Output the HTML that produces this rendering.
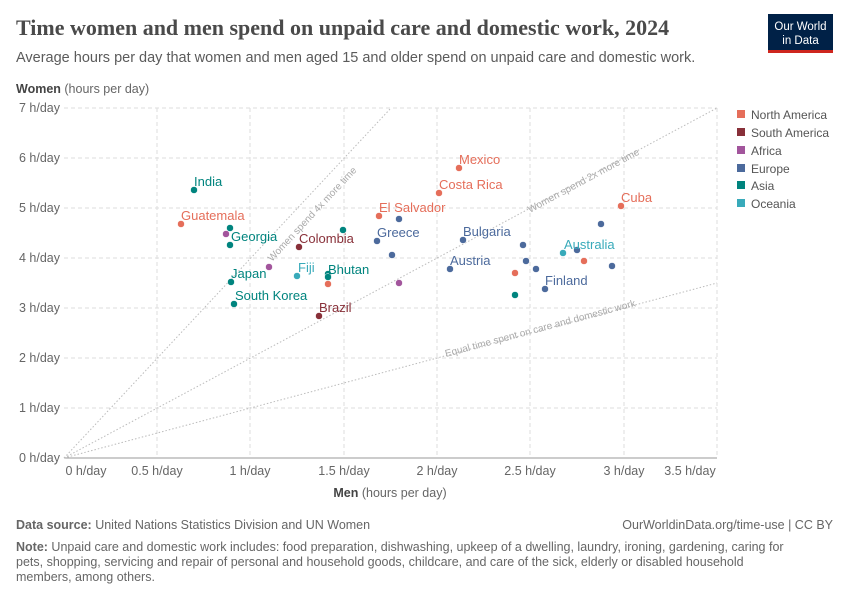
<!DOCTYPE html>
<html><head><meta charset="utf-8"><style>
html,body{margin:0;padding:0;background:#fff;width:850px;height:600px;overflow:hidden}
svg{display:block}
text{font-family:"Liberation Sans",sans-serif}
</style></head><body>
<svg width="850" height="600" viewBox="0 0 850 600" xmlns="http://www.w3.org/2000/svg">
<text x="16" y="35" font-size="22" font-weight="bold" fill="#4a4a4a" style="font-family:'Liberation Serif',serif">Time women and men spend on unpaid care and domestic work, 2024</text>
<text x="16" y="62" font-size="14.5" fill="#5b5b5b">Average hours per day that women and men aged 15 and older spend on unpaid care and domestic work.</text>
<rect x="768" y="14" width="65" height="36" fill="#002147"/>
<rect x="768" y="50" width="65" height="3" fill="#ce261e"/>
<text x="800.5" y="30" font-size="11.5" fill="#fff" text-anchor="middle">Our World</text>
<text x="800.5" y="44" font-size="11.5" fill="#fff" text-anchor="middle">in Data</text>
<text x="16" y="93" font-size="12.5" fill="#444"><tspan font-weight="bold">Women</tspan><tspan fill="#666"> (hours per day)</tspan></text>
<g stroke="#ddd" stroke-dasharray="4,3" stroke-width="1">
<line x1="64" y1="108" x2="717" y2="108"/><line x1="64" y1="158" x2="717" y2="158"/><line x1="64" y1="208" x2="717" y2="208"/><line x1="64" y1="258" x2="717" y2="258"/><line x1="64" y1="308" x2="717" y2="308"/><line x1="64" y1="358" x2="717" y2="358"/><line x1="64" y1="408" x2="717" y2="408"/>
<line x1="157" y1="108" x2="157" y2="458"/><line x1="250" y1="108" x2="250" y2="458"/><line x1="344" y1="108" x2="344" y2="458"/><line x1="437" y1="108" x2="437" y2="458"/><line x1="530" y1="108" x2="530" y2="458"/><line x1="624" y1="108" x2="624" y2="458"/><line x1="717" y1="108" x2="717" y2="458"/>
</g>
<line x1="64" y1="458" x2="717" y2="458" stroke="#999"/>
<g font-size="12.5" fill="#666" text-anchor="end">
<text x="60" y="112">7 h/day</text><text x="60" y="162">6 h/day</text><text x="60" y="212">5 h/day</text><text x="60" y="262">4 h/day</text><text x="60" y="312">3 h/day</text><text x="60" y="362">2 h/day</text><text x="60" y="412">1 h/day</text><text x="60" y="462">0 h/day</text>
</g>
<g font-size="12.5" fill="#666" text-anchor="middle">
<text x="86" y="475">0 h/day</text><text x="157" y="475">0.5 h/day</text><text x="250" y="475">1 h/day</text><text x="344" y="475">1.5 h/day</text><text x="437" y="475">2 h/day</text><text x="530" y="475">2.5 h/day</text><text x="624" y="475">3 h/day</text><text x="690" y="475">3.5 h/day</text>
</g>
<text x="390" y="497" font-size="12.5" fill="#444" text-anchor="middle"><tspan font-weight="bold">Men</tspan><tspan fill="#666"> (hours per day)</tspan></text>
<g stroke="#bbb" stroke-dasharray="1.5,2" stroke-width="1" fill="none">
<line x1="64" y1="458" x2="717" y2="283"/><line x1="64" y1="458" x2="717" y2="108"/><line x1="64" y1="458" x2="391" y2="108"/>
</g>
<g font-size="10" fill="#aaa">
<text transform="translate(446,357) rotate(-15)">Equal time spent on care and domestic work</text>
<text transform="translate(530,213) rotate(-28.2)">Women spend 2x more time</text>
<text transform="translate(272,262) rotate(-47)">Women spend 4x more time</text>
</g>
<g stroke="#fff" stroke-width="0.5">
<g fill="#e56e5a"><circle cx="181" cy="224" r="3.5"/><circle cx="379" cy="216" r="3.5"/><circle cx="328" cy="284" r="3.5"/><circle cx="459" cy="168" r="3.5"/><circle cx="439" cy="193" r="3.5"/><circle cx="515" cy="273" r="3.5"/><circle cx="584" cy="261" r="3.5"/><circle cx="621" cy="206" r="3.5"/></g>
<g fill="#883039"><circle cx="299" cy="247" r="3.5"/><circle cx="319" cy="316" r="3.5"/></g>
<g fill="#a2559c"><circle cx="226" cy="234" r="3.5"/><circle cx="269" cy="267" r="3.5"/><circle cx="399" cy="283" r="3.5"/></g>
<g fill="#4c6a9c"><circle cx="399" cy="219" r="3.5"/><circle cx="377" cy="241" r="3.5"/><circle cx="392" cy="255" r="3.5"/><circle cx="463" cy="240" r="3.5"/><circle cx="450" cy="269" r="3.5"/><circle cx="523" cy="245" r="3.5"/><circle cx="526" cy="261" r="3.5"/><circle cx="536" cy="269" r="3.5"/><circle cx="545" cy="289" r="3.5"/><circle cx="577" cy="250" r="3.5"/><circle cx="601" cy="224" r="3.5"/><circle cx="612" cy="266" r="3.5"/></g>
<g fill="#00847e"><circle cx="194" cy="190" r="3.5"/><circle cx="230" cy="228" r="3.5"/><circle cx="230" cy="245" r="3.5"/><circle cx="343" cy="230" r="3.5"/><circle cx="328" cy="274" r="3.5"/><circle cx="328" cy="277" r="3.5"/><circle cx="231" cy="282" r="3.5"/><circle cx="234" cy="304" r="3.5"/><circle cx="515" cy="295" r="3.5"/></g>
<g fill="#38aaba"><circle cx="297" cy="276" r="3.5"/><circle cx="563" cy="253" r="3.5"/></g>
</g>
<g font-size="13">
<text x="194" y="186" fill="#00847e">India</text>
<text x="181" y="220" fill="#e56e5a">Guatemala</text>
<text x="231" y="241" fill="#00847e">Georgia</text>
<text x="299" y="243" fill="#883039">Colombia</text>
<text x="379" y="212" fill="#e56e5a">El Salvador</text>
<text x="377" y="237" fill="#4c6a9c">Greece</text>
<text x="231" y="278" fill="#00847e">Japan</text>
<text x="235" y="300" fill="#00847e">South Korea</text>
<text x="298" y="272" fill="#38aaba">Fiji</text>
<text x="328" y="274" fill="#00847e">Bhutan</text>
<text x="319" y="312" fill="#883039">Brazil</text>
<text x="459" y="164" fill="#e56e5a">Mexico</text>
<text x="439" y="189" fill="#e56e5a">Costa Rica</text>
<text x="463" y="236" fill="#4c6a9c">Bulgaria</text>
<text x="450" y="265" fill="#4c6a9c">Austria</text>
<text x="545" y="285" fill="#4c6a9c">Finland</text>
<text x="564" y="249" fill="#38aaba">Australia</text>
<text x="621" y="202" fill="#e56e5a">Cuba</text>
</g>
<g font-size="12" fill="#555">
<rect x="737" y="110" width="8" height="8" fill="#e56e5a"/><text x="751" y="119">North America</text>
<rect x="737" y="128" width="8" height="8" fill="#883039"/><text x="751" y="137">South America</text>
<rect x="737" y="146" width="8" height="8" fill="#a2559c"/><text x="751" y="155">Africa</text>
<rect x="737" y="164" width="8" height="8" fill="#4c6a9c"/><text x="751" y="173">Europe</text>
<rect x="737" y="181" width="8" height="8" fill="#00847e"/><text x="751" y="190">Asia</text>
<rect x="737" y="199" width="8" height="8" fill="#38aaba"/><text x="751" y="208">Oceania</text>
</g>
<g font-size="12.5" fill="#666">
<text x="16" y="529"><tspan font-weight="bold">Data source:</tspan> United Nations Statistics Division and UN Women</text>
<text x="833" y="529" text-anchor="end">OurWorldinData.org/time-use | CC BY</text>
<text x="16" y="551"><tspan font-weight="bold">Note:</tspan> Unpaid care and domestic work includes: food preparation, dishwashing, upkeep of a dwelling, laundry, ironing, gardening, caring for</text>
<text x="16" y="566">pets, shopping, servicing and repair of personal and household goods, childcare, and care of the sick, elderly or disabled household</text>
<text x="16" y="581">members, among others.</text>
</g>
</svg>
</body></html>
